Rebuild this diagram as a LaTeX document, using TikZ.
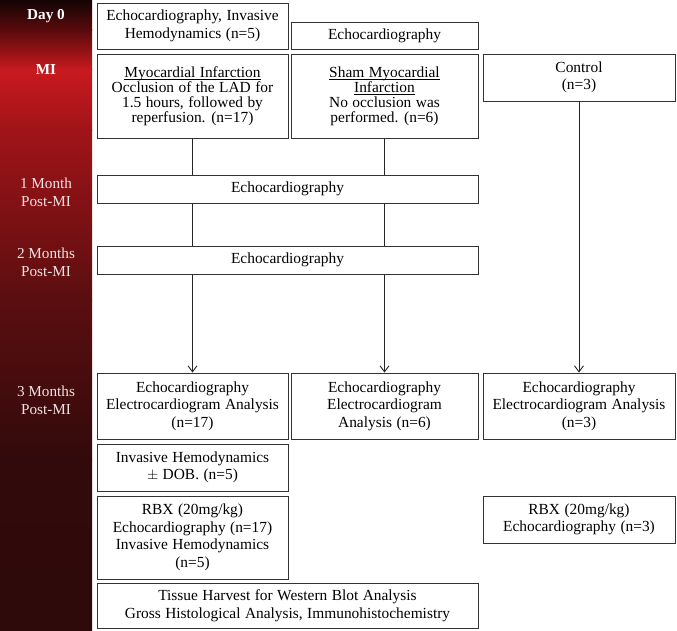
\documentclass[tikz,border=0pt]{standalone}
\usepackage{fontspec}
\setmainfont{Liberation Serif}
\usetikzlibrary{arrows.meta}
\definecolor{g0}{HTML}{140404}
\definecolor{g1}{HTML}{5A0A0C}
\definecolor{g2}{HTML}{C81A1E}
\definecolor{g3}{HTML}{A01418}
\definecolor{g4}{HTML}{5A0E10}
\definecolor{g5}{HTML}{320A0B}
\definecolor{g6}{HTML}{2E0A0B}
\definecolor{lbl}{HTML}{F2E2E2}
\newcommand{\boxfont}{\fontsize{15.4}{17.5}\selectfont\spaceskip=0.29em plus 0.1em\relax}
\newcommand{\tightfont}{\fontsize{15.4}{15}\selectfont\spaceskip=0.29em plus 0.1em\relax}
\newcommand{\ulx}[1]{\setbox0\hbox{#1}\rlap{\smash{\rule[-2.3pt]{\wd0}{0.75pt}}}\box0}
\begin{document}
\begin{tikzpicture}[x=1pt,y=-1pt,
  box/.style={draw=black!80, line width=0.9pt, align=center, inner sep=0pt,
    font=\boxfont},
  tightbox/.style={box, font=\tightfont},
  bartext/.style={align=center, text=lbl, inner sep=0pt, font=\fontsize{15.2}{18}\selectfont},
  barhead/.style={align=center, text=white, inner sep=0pt, font=\fontsize{15.2}{18}\selectfont\bfseries},
  conn/.style={draw=black!85, line width=0.9pt},
  arr/.style={conn, -{Straight Barb[length=6pt,width=9pt]}}]
\useasboundingbox (0,0) rectangle (677,631);
% gradient bar
\fill[top color=g0,bottom color=g1] (0,0) rectangle (92,30.5);
\fill[top color=g1,bottom color=g2] (0,30) rectangle (92,70.5);
\fill[top color=g2,bottom color=g3] (0,70) rectangle (92,130.5);
\fill[top color=g3,bottom color=g4] (0,130) rectangle (92,300.5);
\fill[top color=g4,bottom color=g5] (0,300) rectangle (92,460.5);
\fill[top color=g5,bottom color=g6] (0,460) rectangle (92,631);
\node[barhead] (lday) at (46,16) {Day 0};
\node[barhead] (lmi) at (46,70) {MI};
\node[bartext] (l1) at (46,192) {1 Month\\Post-MI};
\node[bartext] (l2) at (46,262) {2 Months\\Post-MI};
\node[bartext] (l3) at (46,400) {3 Months\\Post-MI};
% boxes
\node[box, minimum width=191pt, minimum height=46pt] (b0) at (192.5,26) {Echocardiography, Invasive\\Hemodynamics (n=5)};
\node[box, minimum width=187pt, minimum height=27pt] (b0s) at (384.5,35.5) {Echocardiography};
\node[tightbox, minimum width=191pt, minimum height=84pt] (mi) at (192.5,96) {\ulx{Myocardial Infarction}\\Occlusion of the LAD for\\1.5 hours, followed by\\reperfusion. (n=17)};
\node[tightbox, minimum width=187pt, minimum height=84pt] (sham) at (384.5,96) {\ulx{Sham Myocardial}\\\ulx{Infarction}\\No occlusion was\\performed. (n=6)};
\node[box, minimum width=192pt, minimum height=47pt] (ctrl) at (579,77.5) {Control\\(n=3)};
\node[box, minimum width=381pt, minimum height=28pt] (m1) at (287.5,189) {Echocardiography};
\node[box, minimum width=381pt, minimum height=28pt] (m2) at (287.5,260) {Echocardiography};
\node[box, minimum width=191pt, minimum height=66pt] (t1) at (192.5,406) {Echocardiography\\Electrocardiogram Analysis\\(n=17)};
\node[box, minimum width=187pt, minimum height=66pt] (t2) at (384.5,406) {Echocardiography\\Electrocardiogram\\Analysis (n=6)};
\node[box, minimum width=192pt, minimum height=66pt] (t3) at (579,406) {Echocardiography\\Electrocardiogram Analysis\\(n=3)};
\node[box, minimum width=191pt, minimum height=47pt] (inv) at (192.5,467.5) {Invasive Hemodynamics\\$\pm$ DOB. (n=5)};
\node[box, minimum width=191pt, minimum height=83pt] (rbx) at (192.5,537.5) {RBX (20mg/kg)\\Echocardiography (n=17)\\Invasive Hemodynamics\\(n=5)};
\node[box, minimum width=192pt, minimum height=47pt] (rbx3) at (579,519.5) {RBX (20mg/kg)\\Echocardiography (n=3)};
\node[box, minimum width=381pt, minimum height=45pt] (tis) at (287.5,605.5) {Tissue Harvest for Western Blot Analysis\\Gross Histological Analysis, Immunohistochemistry};
% connectors
\draw[conn] (mi.south) -- (mi.south |- m1.north);
\draw[conn] (mi.south |- m1.south) -- (mi.south |- m2.north);
\draw[arr] (mi.south |- m2.south) -- (t1.north);
\draw[conn] (sham.south) -- (sham.south |- m1.north);
\draw[conn] (sham.south |- m1.south) -- (sham.south |- m2.north);
\draw[arr] (sham.south |- m2.south) -- (t2.north);
\draw[arr] (ctrl.south) -- (t3.north);
\end{tikzpicture}
\end{document}
